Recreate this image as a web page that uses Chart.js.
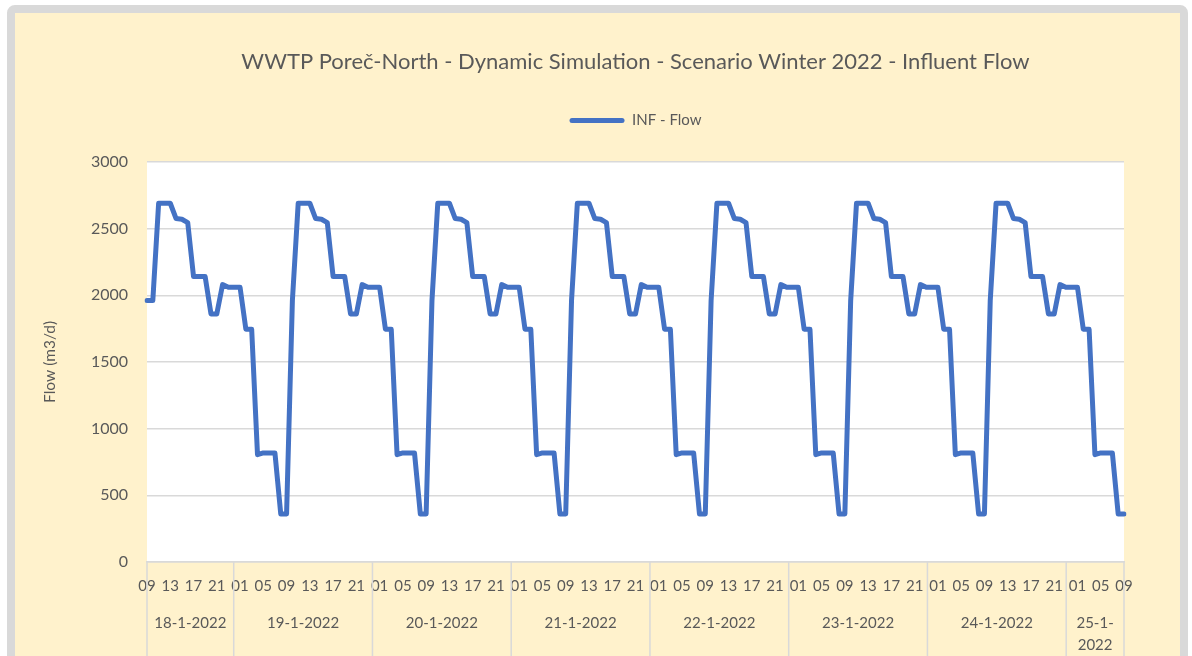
<!DOCTYPE html>
<html>
<head>
<meta charset="utf-8">
<title>WWTP Poreč-North - Influent Flow</title>
<script src="https://cdn.jsdelivr.net/npm/chart.js"></script>
<style>
    html, body { margin: 0; padding: 0; background: #ffffff; overflow: hidden; }
    #frame {
        position: absolute; left: 7px; top: 5px; width: 1181px; height: 700px;
        box-sizing: border-box; border: 8px solid #d9d9d9; border-radius: 8px;
        background: #fff2cc;
    }
    #flow-canvas { position: absolute; left: 0; top: 0; }
</style>
</head>
<body>
<div id="frame"></div>
<canvas id="flow-canvas" width="1192" height="656"></canvas>
<script>
var chartTitle = 'WWTP Poreč-North - Dynamic Simulation - Scenario Winter 2022 - Influent Flow'
var seriesName = 'INF - Flow'
var yAxisTitle = 'Flow (m3/d)'
var yTicks = [0, 500, 1000, 1500, 2000, 2500, 3000]
var shownHours = ['01', '05', '09', '13', '17', '21']

// date of each group on the category axis
var days = ['18-1-2022', '19-1-2022', '20-1-2022', '21-1-2022', '22-1-2022', '23-1-2022', '24-1-2022', '25-1-2022']
var dayFirstHour = [9, 0, 0, 0, 0, 0, 0, 0]

// hourly influent flow (m3/d), one list per day
var flow18 = [1960, 1960, 2690, 2690, 2690, 2575, 2570, 2545, 2140, 2140, 2140, 1860, 1860, 2080, 2060]
var flow19 = [2060, 2060, 1745, 1745, 805, 818, 818, 818, 360, 360, 1960, 2690, 2690, 2690, 2575, 2570, 2545, 2140, 2140, 2140, 1860, 1860, 2080, 2060]
var flow20 = [2060, 2060, 1745, 1745, 805, 818, 818, 818, 360, 360, 1960, 2690, 2690, 2690, 2575, 2570, 2545, 2140, 2140, 2140, 1860, 1860, 2080, 2060]
var flow21 = [2060, 2060, 1745, 1745, 805, 818, 818, 818, 360, 360, 1960, 2690, 2690, 2690, 2575, 2570, 2545, 2140, 2140, 2140, 1860, 1860, 2080, 2060]
var flow22 = [2060, 2060, 1745, 1745, 805, 818, 818, 818, 360, 360, 1960, 2690, 2690, 2690, 2575, 2570, 2545, 2140, 2140, 2140, 1860, 1860, 2080, 2060]
var flow23 = [2060, 2060, 1745, 1745, 805, 818, 818, 818, 360, 360, 1960, 2690, 2690, 2690, 2575, 2570, 2545, 2140, 2140, 2140, 1860, 1860, 2080, 2060]
var flow24 = [2060, 2060, 1745, 1745, 805, 818, 818, 818, 360, 360, 1960, 2690, 2690, 2690, 2575, 2570, 2545, 2140, 2140, 2140, 1860, 1860, 2080, 2060]
var flow25 = [2060, 2060, 1745, 1745, 805, 818, 818, 818, 360, 360]

var flowByDay = [flow18, flow19, flow20, flow21, flow22, flow23, flow24, flow25]

var textColor = '#595959'
var gridColor = '#d9d9d9'
var lineColor = '#4472c4'

// category labels (hour of day) built from the day lists
var hours = []
var flow = []
for (let i = 0; i < flowByDay.length; i++) {
    for (let k = 0; k < flowByDay[i].length; k++) {
        var h = dayFirstHour[i] + k
        hours.push((h < 10 ? '0' : '') + h)
        flow.push(flowByDay[i][k])
    }
}

Chart.defaults.font.family = 'Lato'
Chart.defaults.color = textColor

var plotBackground = {
    id: 'plotBackground',
    beforeDraw: function (chart) {
        var a = chart.chartArea
        var ctx = chart.ctx
        ctx.save()
        ctx.fillStyle = '#ffffff'
        ctx.fillRect(a.left, a.top, a.right - a.left, a.bottom - a.top)
        ctx.restore()
    }
}

// second row of the axis: dates with the group boxes, like excel does it
var dayGroups = {
    id: 'dayGroups',
    afterDraw: function (chart) {
        var a = chart.chartArea
        var ctx = chart.ctx
        var slot = (a.right - a.left) / hours.length
        var start = 0
        ctx.save()
        ctx.strokeStyle = gridColor
        ctx.lineWidth = 1.5
        ctx.fillStyle = textColor
        ctx.font = '15px Lato'
        ctx.textAlign = 'center'
        ctx.textBaseline = 'middle'
        for (let i = 0; i < days.length; i++) {
            var x0 = a.left + start * slot
            var x1 = a.left + (start + flowByDay[i].length) * slot
            ctx.beginPath()
            ctx.moveTo(x0, a.bottom)
            ctx.lineTo(x0, chart.height)
            ctx.stroke()
            var cx = (x0 + x1) / 2
            var y = a.bottom + 61
            if (ctx.measureText(days[i]).width > x1 - x0 - 8) {
                var cut = days[i].lastIndexOf('-') + 1
                ctx.fillText(days[i].slice(0, cut), cx, y)
                ctx.fillText(days[i].slice(cut), cx, y + 22)
            } else {
                ctx.fillText(days[i], cx, y)
            }
            start += flowByDay[i].length
        }
        ctx.beginPath()
        ctx.moveTo(a.right, a.bottom)
        ctx.lineTo(a.right, chart.height)
        ctx.stroke()
        ctx.restore()
    }
}

var ctx = document.getElementById('flow-canvas').getContext('2d')
var flowChart = new Chart(ctx, {
    type: 'line',
    data: {
        labels: hours,
        datasets: [{
            label: seriesName,
            data: flow,
            borderColor: lineColor,
            backgroundColor: lineColor,
            borderWidth: 5,
            pointRadius: 0,
            tension: 0,
            fill: false,
            borderJoinStyle: 'round',
            borderCapStyle: 'round'
        }]
    },
    options: {
        responsive: false,
        animation: false,
        devicePixelRatio: 1,
        layout: { padding: { top: 0, right: 68, bottom: 0, left: 0 } },
        plugins: {
            tooltip: { enabled: false },
            title: {
                display: true,
                text: chartTitle,
                color: textColor,
                fullSize: false,
                font: { size: 22, weight: 'normal' },
                padding: { top: 49, bottom: 14 }
            },
            // empty spacer under the legend, keeps the plot top where excel had it
            subtitle: {
                display: true,
                text: '',
                fullSize: false,
                weight: 500,
                font: { size: 10 },
                padding: { top: 12, bottom: 0 }
            },
            legend: {
                display: true,
                position: 'top',
                fullSize: false,
                labels: {
                    color: textColor,
                    font: { size: 15 },
                    boxWidth: 55,
                    boxHeight: 5,
                    padding: 23.5,
                    useBorderRadius: true,
                    generateLabels: function (chart) {
                        return [{
                            text: seriesName,
                            fillStyle: lineColor,
                            strokeStyle: lineColor,
                            lineWidth: 0,
                            borderRadius: 2.5,
                            fontColor: textColor,
                            hidden: false,
                            datasetIndex: 0
                        }]
                    }
                }
            }
        },
        scales: {
            x: {
                type: 'category',
                offset: false,
                grid: { display: false, drawTicks: false },
                border: { display: true, color: gridColor, width: 1.5 },
                ticks: {
                    autoSkip: false,
                    maxRotation: 0,
                    minRotation: 0,
                    padding: 15,
                    color: textColor,
                    font: { size: 15 },
                    callback: function (value, index) {
                        return shownHours.includes(hours[index]) ? hours[index] : ''
                    }
                },
                afterFit: function (scale) { scale.height = 94 }
            },
            y: {
                min: 0,
                max: 3000,
                afterBuildTicks: function (scale) {
                    scale.ticks = yTicks.map(function (v) { return { value: v } })
                },
                ticks: {
                    padding: 19,
                    color: textColor,
                    font: { size: 16 },
                    callback: function (value) { return String(value) }
                },
                grid: { color: gridColor, lineWidth: 1.5, drawTicks: false },
                border: { display: false },
                title: {
                    display: true,
                    text: yAxisTitle,
                    color: textColor,
                    font: { size: 15.5 },
                    padding: { top: 41, bottom: 0 }
                },
                afterFit: function (scale) { scale.width = 147 }
            }
        }
    },
    plugins: [plotBackground, dayGroups]
});
</script>
</body>
</html>
